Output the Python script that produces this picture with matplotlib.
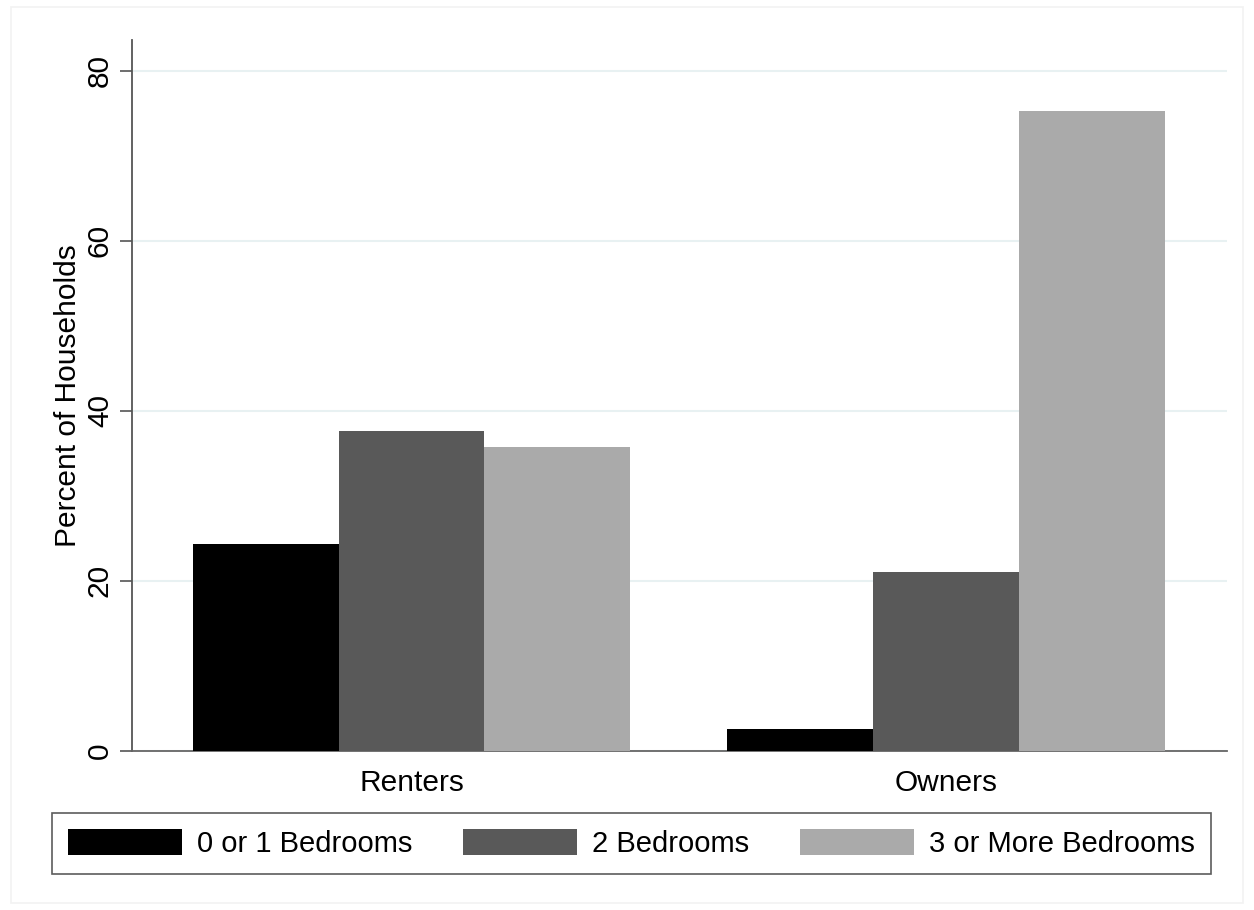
import matplotlib.pyplot as plt
import numpy as np

plt.rcParams['font.family'] = ['Liberation Sans', 'DejaVu Sans']

groups = ["Renters", "Owners"]
series_names = ["0 or 1 Bedrooms", "2 Bedrooms", "3 or More Bedrooms"]
zero_one_bed = [24.4, 2.6]
two_bed = [37.6, 21.1]
three_plus_bed = [35.7, 75.3]
yticks = [0, 20, 40, 60, 80]

colors = ["#000000", "#595959", "#aaaaaa"]

fig = plt.figure(figsize=(12.54, 9.1), dpi=100)
ax = fig.add_axes([0.1053, 0.1747, 0.8732, 0.7813])

x = np.arange(len(groups))
w = 0.273
for i, (vals, name) in enumerate(zip([zero_one_bed, two_bed, three_plus_bed], series_names)):
    ax.bar(x + (i - 1) * w, vals, width=w, color=colors[i], label=name, zorder=3)

ax.set_xlim(-0.523, 1.526)
ax.set_ylim(0, 83.6)
ax.set_yticks(yticks)
ax.set_yticklabels([str(t) for t in yticks], rotation=90, va='center', fontsize=21.5)
ax.set_xticks(x)
ax.set_xticklabels(groups, fontsize=21.5)
ax.tick_params(axis='x', length=0, pad=13)
ax.tick_params(axis='y', length=9, width=1.2, color='#555555', pad=4)
ax.grid(axis='y', color='#e8f1f2', linewidth=1.5, zorder=0)
ax.set_ylabel("Percent of Households", fontsize=21.5, labelpad=3)

for s in ['top', 'right']:
    ax.spines[s].set_visible(False)
ax.spines['left'].set_color('#555555')
ax.spines['left'].set_linewidth(1.3)
ax.spines['bottom'].set_color('#666666')
ax.spines['bottom'].set_linewidth(1.3)

leg = fig.legend(loc='center', bbox_to_anchor=(0.5036, 0.0731), ncol=3, fontsize=21,
                 frameon=True, fancybox=False, edgecolor='#333333',
                 handlelength=3.9, handleheight=1.0, columnspacing=1.75,
                 handletextpad=0.51, borderpad=0.55, borderaxespad=0)
leg.get_frame().set_linewidth(1.2)

# faint graph-region border
fig.patches.append(plt.Rectangle((0.009, 0.008), 0.982, 0.984, transform=fig.transFigure,
                                 fill=False, edgecolor='#f2f2f2', linewidth=1.2))

fig.savefig("out.png", dpi=100)
